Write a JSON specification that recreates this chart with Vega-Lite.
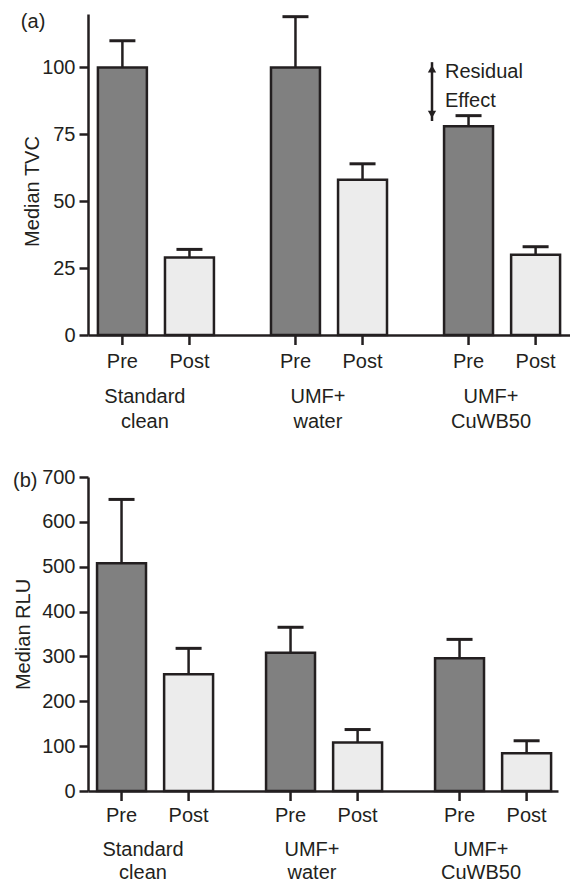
{
  "$schema": "https://vega.github.io/schema/vega-lite/v6.json",
  "padding": {"top": 11, "left": 13, "right": 0, "bottom": 0},
  "background": "white",
  "datasets": {
    "tvc": [
      {"group": "Standard clean", "phase": "Pre", "value": 100, "upper": 110, "label": "Standard\nclean"},
      {"group": "Standard clean", "phase": "Post", "value": 29, "upper": 32, "label": "Standard\nclean"},
      {"group": "UMF+ water", "phase": "Pre", "value": 100, "upper": 119, "label": "UMF+\nwater"},
      {"group": "UMF+ water", "phase": "Post", "value": 58, "upper": 64, "label": "UMF+\nwater"},
      {"group": "UMF+ CuWB50", "phase": "Pre", "value": 78, "upper": 82, "label": "UMF+\nCuWB50"},
      {"group": "UMF+ CuWB50", "phase": "Post", "value": 30, "upper": 33, "label": "UMF+\nCuWB50"}
    ],
    "rlu": [
      {"group": "Standard clean", "phase": "Pre", "value": 508, "upper": 650, "label": "Standard\nclean"},
      {"group": "Standard clean", "phase": "Post", "value": 260, "upper": 318, "label": "Standard\nclean"},
      {"group": "UMF+ water", "phase": "Pre", "value": 308, "upper": 365, "label": "UMF+\nwater"},
      {"group": "UMF+ water", "phase": "Post", "value": 108, "upper": 137, "label": "UMF+\nwater"},
      {"group": "UMF+ CuWB50", "phase": "Pre", "value": 296, "upper": 338, "label": "UMF+\nCuWB50"},
      {"group": "UMF+ CuWB50", "phase": "Post", "value": 84, "upper": 112, "label": "UMF+\nCuWB50"}
    ]
  },
  "vconcat": [
    {
      "width": 482,
      "height": 321,
      "data": {"name": "tvc"},
      "encoding": {
        "x": {"field": "group", "type": "nominal", "sort": ["Standard clean", "UMF+ water", "UMF+ CuWB50"], "scale": {"paddingInner": 0.225, "paddingOuter": 0.005}, "axis": {"labels": false, "ticks": false, "title": null, "domainColor": "#231f20", "domainWidth": 2.5}},
        "xOffset": {"field": "phase", "type": "nominal", "sort": ["Pre", "Post"], "scale": {"paddingInner": 0.27, "paddingOuter": 0.135}}
      },
      "layer": [
        {
          "mark": {"type": "bar", "stroke": "#231f20", "strokeWidth": 2.5},
          "encoding": {
            "y": {"field": "value", "type": "quantitative", "title": "Median TVC", "scale": {"domain": [0, 120], "nice": false}, "axis": {"values": [0, 25, 50, 75, 100], "grid": false, "titleY": 177, "titlePadding": -1}},
            "color": {"field": "phase", "type": "nominal", "scale": {"domain": ["Pre", "Post"], "range": ["#808080", "#ececec"]}, "legend": null}
          }
        },
        {
          "mark": {"type": "rule", "color": "#231f20", "strokeWidth": 2.5},
          "encoding": {
            "y": {"field": "value", "type": "quantitative", "title": "Median TVC", "scale": {"domain": [0, 120], "nice": false}},
            "y2": {"field": "upper"}
          }
        },
        {
          "mark": {"type": "tick", "color": "#231f20", "opacity": 1, "size": 26, "thickness": 3},
          "encoding": {
            "y": {"field": "upper", "type": "quantitative", "title": "Median TVC", "scale": {"domain": [0, 120], "nice": false}}
          }
        },
        {
          "mark": {"type": "tick", "orient": "vertical", "color": "#231f20", "opacity": 1, "size": 10, "thickness": 2.5, "yOffset": 5},
          "encoding": {
            "y": {"datum": 0, "type": "quantitative"}
          }
        },
        {
          "mark": {"type": "text", "fontSize": 20, "color": "#231f20", "baseline": "alphabetic", "dy": 33},
          "encoding": {
            "y": {"datum": 0, "type": "quantitative"},
            "text": {"field": "phase"}
          }
        },
        {
          "transform": [{"filter": "datum.phase === 'Pre'"}],
          "mark": {"type": "text", "fontSize": 20, "color": "#231f20", "baseline": "alphabetic", "dy": 68, "dx": -11, "lineBreak": "\n", "lineHeight": 25},
          "encoding": {
            "xOffset": {"value": 67},
            "y": {"datum": 0, "type": "quantitative"},
            "text": {"field": "label"}
          }
        },
        {
          "data": {"values": [{"group": "Standard clean", "at": 114.8, "tag": "(a)"}]},
          "mark": {"type": "text", "fontSize": 20, "color": "#231f20", "align": "left", "baseline": "alphabetic"},
          "encoding": {
            "xOffset": {"value": -68},
            "y": {"field": "at", "type": "quantitative", "scale": {"domain": [0, 120], "nice": false}, "title": "Median TVC"},
            "text": {"field": "tag"}
          }
        },
        {
          "data": {"values": [{"group": "UMF+ CuWB50", "lo": 80, "hi": 102}]},
          "mark": {"type": "rule", "color": "#231f20", "strokeWidth": 2.5},
          "encoding": {
            "xOffset": {"value": -3},
            "y": {"field": "lo", "type": "quantitative", "scale": {"domain": [0, 120], "nice": false}, "title": "Median TVC"},
            "y2": {"field": "hi"}
          }
        },
        {
          "data": {"values": [{"group": "UMF+ CuWB50", "at": 99.5, "dir": "up"}, {"group": "UMF+ CuWB50", "at": 82.5, "dir": "down"}]},
          "mark": {"type": "point", "filled": true, "color": "#231f20", "opacity": 1, "size": 70},
          "encoding": {
            "xOffset": {"value": -3},
            "y": {"field": "at", "type": "quantitative", "scale": {"domain": [0, 120], "nice": false}, "title": "Median TVC"},
            "shape": {"field": "dir", "type": "nominal", "scale": {"domain": ["up", "down"], "range": ["triangle-up", "triangle-down"]}, "legend": null}
          }
        },
        {
          "data": {"values": [{"group": "UMF+ CuWB50", "at": 96, "note": "Residual\nEffect"}]},
          "mark": {"type": "text", "fontSize": 20, "color": "#231f20", "align": "left", "baseline": "alphabetic", "lineBreak": "\n", "lineHeight": 29},
          "encoding": {
            "xOffset": {"value": 10},
            "y": {"field": "at", "type": "quantitative", "scale": {"domain": [0, 120], "nice": false}, "title": "Median TVC"},
            "text": {"field": "note"}
          }
        }
      ]
    },
    {
      "width": 470,
      "height": 314,
      "data": {"name": "rlu"},
      "encoding": {
        "x": {"field": "group", "type": "nominal", "sort": ["Standard clean", "UMF+ water", "UMF+ CuWB50"], "scale": {"paddingInner": 0.219, "paddingOuter": 0}, "axis": {"labels": false, "ticks": false, "title": null, "domainColor": "#231f20", "domainWidth": 2.5}},
        "xOffset": {"field": "phase", "type": "nominal", "sort": ["Pre", "Post"], "scale": {"paddingInner": 0.288, "paddingOuter": 0.136}}
      },
      "layer": [
        {
          "mark": {"type": "bar", "stroke": "#231f20", "strokeWidth": 2.5},
          "encoding": {
            "y": {"field": "value", "type": "quantitative", "title": "Median RLU", "scale": {"domain": [0, 700], "nice": false}, "axis": {"values": [0, 100, 200, 300, 400, 500, 600, 700], "grid": false, "titlePadding": 8}},
            "color": {"field": "phase", "type": "nominal", "scale": {"domain": ["Pre", "Post"], "range": ["#808080", "#ececec"]}, "legend": null}
          }
        },
        {
          "mark": {"type": "rule", "color": "#231f20", "strokeWidth": 2.5},
          "encoding": {
            "y": {"field": "value", "type": "quantitative", "title": "Median RLU", "scale": {"domain": [0, 700], "nice": false}},
            "y2": {"field": "upper"}
          }
        },
        {
          "mark": {"type": "tick", "color": "#231f20", "opacity": 1, "size": 26, "thickness": 3},
          "encoding": {
            "y": {"field": "upper", "type": "quantitative", "title": "Median RLU", "scale": {"domain": [0, 700], "nice": false}}
          }
        },
        {
          "mark": {"type": "tick", "orient": "vertical", "color": "#231f20", "opacity": 1, "size": 10, "thickness": 2.5, "yOffset": 5},
          "encoding": {
            "y": {"datum": 0, "type": "quantitative"}
          }
        },
        {
          "mark": {"type": "text", "fontSize": 20, "color": "#231f20", "baseline": "alphabetic", "dy": 31},
          "encoding": {
            "y": {"datum": 0, "type": "quantitative"},
            "text": {"field": "phase"}
          }
        },
        {
          "transform": [{"filter": "datum.phase === 'Pre'"}],
          "mark": {"type": "text", "fontSize": 20, "color": "#231f20", "baseline": "alphabetic", "dy": 65, "dx": -11, "lineBreak": "\n", "lineHeight": 23},
          "encoding": {
            "xOffset": {"value": 66},
            "y": {"datum": 0, "type": "quantitative"},
            "text": {"field": "label"}
          }
        },
        {
          "data": {"values": [{"group": "Standard clean", "at": 677, "tag": "(b)"}]},
          "mark": {"type": "text", "fontSize": 20, "color": "#231f20", "align": "left", "baseline": "alphabetic"},
          "encoding": {
            "xOffset": {"value": -75},
            "y": {"field": "at", "type": "quantitative", "scale": {"domain": [0, 700], "nice": false}, "title": "Median RLU"},
            "text": {"field": "tag"}
          }
        }
      ]
    }
  ],
  "spacing": 35,
  "config": {
    "font": "Liberation Sans",
    "view": {"stroke": null},
    "axis": {"labelFontSize": 20, "titleFontSize": 20, "titleFontWeight": "normal", "labelColor": "#231f20", "titleColor": "#231f20", "domainColor": "#231f20", "domainWidth": 2.5, "tickColor": "#231f20", "tickWidth": 2.5, "tickSize": 9, "labelPadding": 4}
  }
}
